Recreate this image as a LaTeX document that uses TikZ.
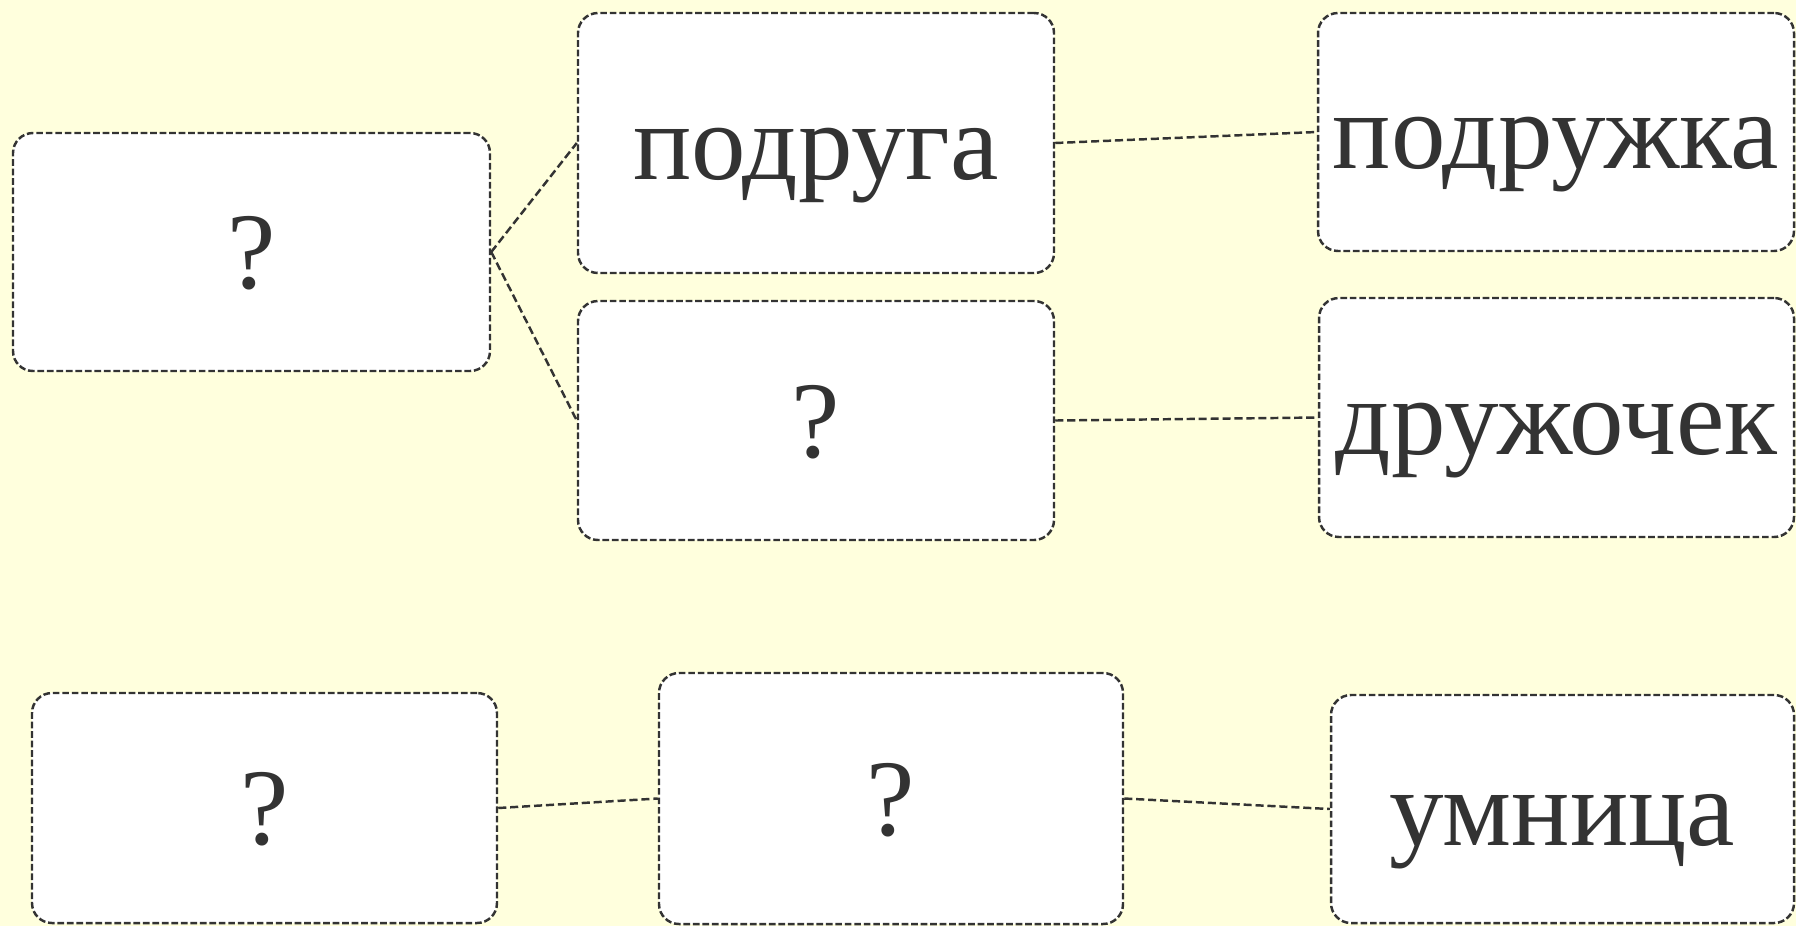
\documentclass[tikz,border=0pt]{standalone}
\usepackage{fontspec}
\setmainfont{Liberation Serif}
\definecolor{slidebg}{RGB}{255,255,221}
\definecolor{inkgray}{RGB}{51,51,51}
\begin{document}
\begin{tikzpicture}[
    wordbox/.style={draw=inkgray, fill=white, line width=0.7pt,
      dash pattern=on 1.9pt off 0.8pt, rounded corners=0.2cm,
      text=inkgray, font=\fontsize{31}{37}\selectfont,
      text height=27.6pt, text depth=6.7pt, inner sep=0pt},
    link/.style={draw=inkgray, line width=0.7pt, dash pattern=on 2.3pt off 1.1pt}
  ]
  % Slide background
  \fill [slidebg] (0,0) rectangle (17.96,-9.26);
  \useasboundingbox (0,0) rectangle (17.96,-9.26);

  % The word boxes: name/x/y/width/height/text
  \foreach \name/\x/\y/\w/\h/\txt in {
    a/2.515/-2.52/4.77/2.38/?,
    b/8.16/-1.43/4.76/2.60/подруга,
    c/8.16/-4.205/4.76/2.39/?,
    d/15.56/-1.32/4.76/2.38/подружка,
    e/15.565/-4.175/4.75/2.39/дружочек,
    f/2.645/-8.08/4.65/2.30/?,
    g/8.91/-7.985/4.64/2.51/?,
    h/15.625/-8.09/4.63/2.28/умница} {
    \node [wordbox, minimum width=\w cm, minimum height=\h cm] (\name) at (\x,\y) {\txt};
  }

  % Dashed links between the boxes
  \foreach \from/\to in {a/b, a/c, b/d, c/e, f/g, g/h} {
    \draw [link] (\from.east) -- (\to.west);
  }
\end{tikzpicture}
\end{document}
